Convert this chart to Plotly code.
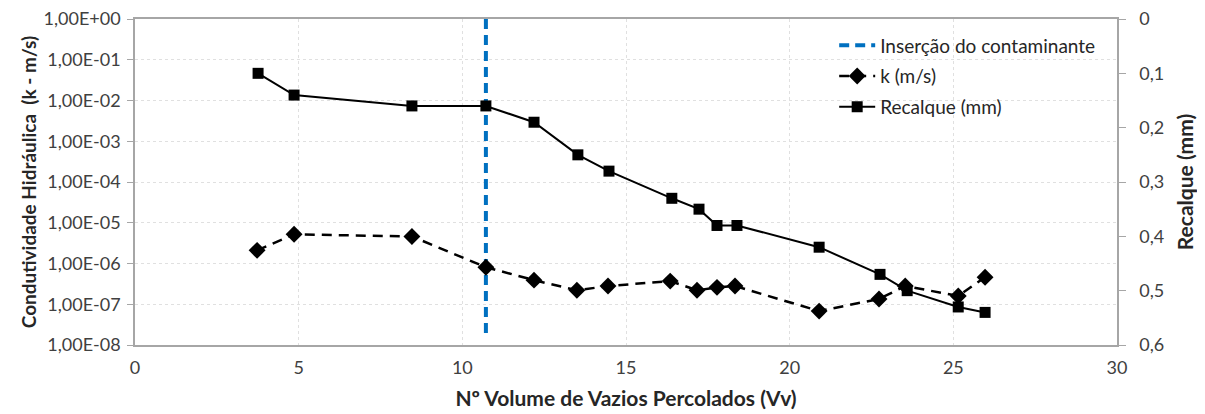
import plotly.graph_objects as go

# Data
vv_recalque = [3.76, 4.86, 8.46, 10.72, 12.19, 13.53, 14.48, 16.4, 17.23, 17.78, 18.39, 20.9, 22.76, 23.59, 25.15, 25.97]
recalque_mm = [0.10, 0.14, 0.16, 0.16, 0.19, 0.25, 0.28, 0.33, 0.35, 0.38, 0.38, 0.42, 0.47, 0.50, 0.53, 0.54]

vv_k = [3.73, 4.86, 8.46, 10.72, 12.19, 13.5, 14.45, 16.35, 17.17, 17.78, 18.33, 20.9, 22.73, 23.53, 25.15, 25.97]
k_ms = [2.1e-6, 5.2e-6, 4.6e-6, 8.1e-7, 3.9e-7, 2.2e-7, 2.8e-7, 3.7e-7, 2.2e-7, 2.6e-7, 2.8e-7, 6.8e-8, 1.35e-7, 2.8e-7, 1.6e-7, 4.6e-7]

insertion_x = [10.72, 10.72]
insertion_y = [1.0, 1.5e-8]

left_tickvals = [1e-8, 1e-7, 1e-6, 1e-5, 1e-4, 1e-3, 1e-2, 1e-1, 1e0]
left_ticktext = ["1,00E-08", "1,00E-07", "1,00E-06", "1,00E-05", "1,00E-04",
                 "1,00E-03", "1,00E-02", "1,00E-01", "1,00E+00"]
right_tickvals = [0, 0.1, 0.2, 0.3, 0.4, 0.5, 0.6]
right_ticktext = ["0", "0,1", "0,2", "0,3", "0,4", "0,5", "0,6"]

FONT = "Lato, Open Sans, sans-serif"
TXT = "#404040"
TITLE = "#262626"
AX = "#a6a6a6"
GRID = "#e0e0e0"

fig = go.Figure()

fig.add_trace(go.Scatter(
    x=insertion_x, y=insertion_y, mode="lines", name="Inserção do contaminante",
    legendgroup="a",
    line=dict(color="#0070C0", width=4, dash="10px,6px"), yaxis="y"))

fig.add_trace(go.Scatter(
    x=vv_k, y=k_ms, mode="lines+markers", name="k (m/s)", legendgroup="b",
    line=dict(color="black", width=2.5, dash="10px,7px"),
    marker=dict(symbol="diamond", size=13, color="black"), yaxis="y"))

fig.add_trace(go.Scatter(
    x=vv_recalque, y=recalque_mm, mode="lines+markers", name="Recalque (mm)",
    legendgroup="c",
    line=dict(color="black", width=2),
    marker=dict(symbol="square", size=11, color="black"), yaxis="y2"))

fig.update_layout(
    width=1197, height=406,
    margin=dict(l=127, r=88, t=11, b=69),
    paper_bgcolor="white", plot_bgcolor="white",
    font=dict(family=FONT, size=18, color=TXT),
    showlegend=True,
    legend=dict(x=0.712, y=0.977, xanchor="left", yanchor="top",
                bgcolor="rgba(0,0,0,0)", font=dict(size=19, color=TITLE),
                itemwidth=36, tracegroupgap=3),
    xaxis=dict(range=[0, 30], dtick=5, tick0=0, automargin=False,
               showline=True, linecolor=AX, linewidth=1.5, mirror=True,
               showgrid=True, gridcolor=GRID, griddash="dot", gridwidth=1,
               ticks="", zeroline=False, ticklabelstandoff=6,
               title=dict(text="<b>Nº Volume de Vazios Percolados (Vv)</b>",
                          font=dict(size=21, color=TITLE), standoff=14),
               tickfont=dict(size=18, color=TXT)),
    yaxis=dict(type="log", range=[-8, 0], automargin=False,
               tickvals=left_tickvals, ticktext=left_ticktext,
               showline=True, linecolor=AX, linewidth=1.5,
               showgrid=True, gridcolor=GRID, griddash="dot", gridwidth=1,
               ticks="outside", ticklen=6, tickcolor=AX,
               zeroline=False, ticklabelstandoff=3, ticklabeloverflow="allow",
               title=dict(text="<b>Condutividade Hidráulica  (k - m/s)</b>",
                          font=dict(size=19, color=TITLE), standoff=2),
               tickfont=dict(size=18, color=TXT)),
    yaxis2=dict(overlaying="y", side="right", range=[0.6, 0], automargin=False,
                tickvals=right_tickvals, ticktext=right_ticktext,
                showline=True, linecolor=AX, linewidth=1.5,
                showgrid=False, zeroline=False,
                ticks="outside", ticklen=7, tickcolor=AX,
                ticklabelstandoff=10, ticklabeloverflow="allow",
                title=dict(text="<b>Recalque (mm)</b>",
                           font=dict(size=21, color=TITLE), standoff=15),
                tickfont=dict(size=18, color=TXT)),
)

fig.write_html("out.html")
